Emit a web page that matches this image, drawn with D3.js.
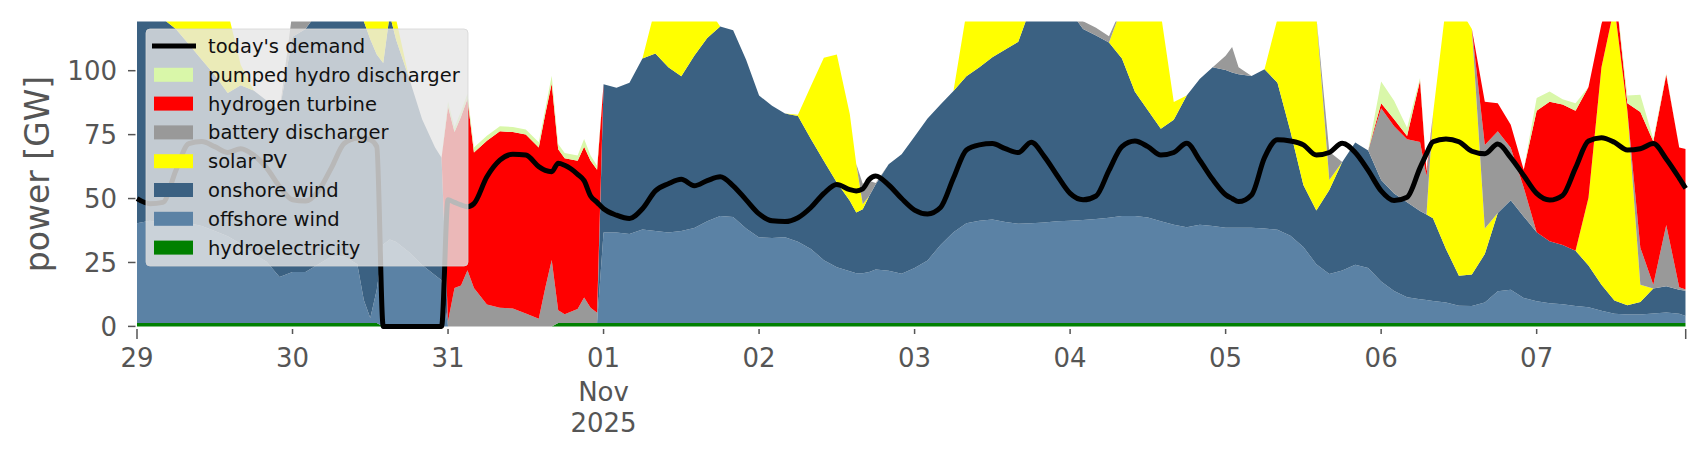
<!DOCTYPE html>
<html><head><meta charset="utf-8">
<script src="https://cdn.jsdelivr.net/npm/d3@7"></script>
<style>body{margin:0;background:#fff}svg{display:block}text{font-family:"DejaVu Sans",sans-serif}</style>
</head><body>
<svg id="chart" width="1706" height="460"></svg>
<script>
// hours since 2025-10-29 00:00 (UTC)
const hours = [0,2,4,6,8,10,12,14,16,18,20,22,
 24,26,28,30,32,34,35,36,37,38,39,40,42,44,46,47,
 48,49,50,51,52,54,56,58,60,62,63,64,65,66,68,69,70,71,
 72,74,76,78,80,82,84,86,88,90,92,94,
 96,98,100,102,104,106,108,110,111,112,113,114,116,118,
 120,122,124,126,128,130,132,134,136,138,140,142,
 144,146,148,150,152,154,156,158,160,162,164,166,
 168,169,170,172,174,176,178,180,182,184,186,188,190,
 192,194,196,198,199,200,202,204,206,208,210,212,214,
 216,218,220,222,224,226,228,230,232,234,236,238,239];

const hydroelectricity = [1.3,1.3,1.3,1.3,1.3,1.3,1.3,1.3,1.3,1.3,1.3,1.3,
 1.3,1.3,1.3,1.3,1.3,1.3,1.3,1.3,1.3,0,0,0,0,0,0,0,
 0,0,0,0,0,0,0,0,0,0,0,0,1.3,1.3,1.3,1.3,1.3,1.3,
 1.3,1.3,1.3,1.3,1.3,1.3,1.3,1.3,1.3,1.3,1.3,1.3,
 1.3,1.3,1.3,1.3,1.3,1.3,1.3,1.3,1.3,1.3,1.3,1.3,1.3,1.3,
 1.3,1.3,1.3,1.3,1.3,1.3,1.3,1.3,1.3,1.3,1.3,1.3,
 1.3,1.3,1.3,1.3,1.3,1.3,1.3,1.3,1.3,1.3,1.3,1.3,
 1.3,1.3,1.3,1.3,1.3,1.3,1.3,1.3,1.3,1.3,1.3,1.3,1.3,
 1.3,1.3,1.3,1.3,1.3,1.3,1.3,1.3,1.3,1.3,1.3,1.3,1.3,
 1.3,1.3,1.3,1.3,1.3,1.3,1.3,1.3,1.3,1.3,1.3,1.3,1.3];

const offshoreWind = [39,40,39,39,39,38,36,34,31,27,24,18,
 20,20,23,26,26,23,9,2,13,32,34,33,29,24,20,18,
 0,0,0,0,0,0,0,0,0,0,0,0,0,0,0,0,0,0,
 35.4,35.4,34.8,36.6,36,35.4,36,37.2,39.8,41.9,41.5,37,
 33.5,33.3,33.6,31.8,29,24.6,21.8,20.3,19.5,19.5,20,21,20.5,19.3,
 21.5,24.5,30.5,35.5,39,40,40.5,39.5,38.8,39,39.3,39.8,
 40,40.3,40.7,41.2,41.9,41.9,41.3,39.8,38.5,37.5,38.5,38,
 37.3,37.3,37.3,37.3,37,36.5,34.2,29.8,23,19.2,20.6,22.8,21.5,
 16.3,12.5,10.1,9.3,9,8.6,8,6.8,6.7,8,12.4,13,9.8,
 8.5,7.8,7.4,6.7,6.2,4.8,3.6,3.4,3.4,3.7,4.1,3.6,2.8];

const onshoreWind = [90,84,80,76,70,65,61,56,62,64,63,65,
 92,95,99,98,98,101,109,109,92,71,88,79,68,57,50,48,
 0,0,0,0,0,0,0,0,0,0,0,0,0,0,0,0,0,0,
 58,56.6,59.2,66.9,69.4,64.6,60.5,67.3,71.7,74.1,73,66,
 55.5,51.7,48.4,49.2,43,38.8,33.2,27.5,23.7,25,29.7,33.3,41.6,46.7,
 51.5,55.5,55,55.3,57.5,60,63.5,67.5,71.2,85,87.7,87.2,
 82,74.7,71.8,68.5,61.6,48.6,41.9,36.2,41,51.5,57,62,
 61.7,60.7,60,59.3,62.3,57.5,40.8,24.2,21,32.8,42.4,47.8,46,
 39.7,38.2,37.2,34.5,33.5,32.4,21,11.7,12.3,19,30.6,35,31.9,
 27,24.2,23.1,21.6,16.3,10.2,5.2,3.6,4.8,9.8,10.3,9.4,9.8];

const solarPV = [0,0,0,5,20,30,35,32,8,0,0,0,
 0,0,0,0,2,8,12,15,18,20,5,8,0,0,0,0,
 0,0,0,0,0,0,0,0,0,0,0,0,0,0,0,0,0,0,
 0,0,0,0,18,30,40,30,12,0,0,0,
 0,0,0,0.5,20.7,40.4,50,34,19,2,0,0,0,0,
 0,0,0,0,25,30,30,20,9,0,0,0,
 0,0,0,0,20,35,45,45,7,0,0,0,
 0,0,0,0,0,25,50,70,76,4,0,0,0,
 0,0,0,0,0,40.7,95,105,96,10,0,0,0,
 0,0,0,0,26.5,85,115,76,6.8,0,0,0,0];

const batteryDischarger = [0,0,0,0,0,0,0,0,0,0,0,0,
 10,10,0,0,0,0,0,0,0,0,0,0,0,0,0,0,
 2,15,16,22,15,8.6,7.3,7,5,3,15,26,5,3.5,5.5,10,6,4,
 0,0,0,0,0,0,0,0,0,0,0,0,
 0,0,0,0,0,0,0,0,0,8,6,0.5,0,0,
 0,0,0,0,0,0,0,0,0,0,0,0,
 0,3,3,2.5,0,0,0,0,0,0,0,0,
 5.5,10,2.7,0,0,0,0,0,0,11,0,0,0,
 28,26.3,24.6,27,15,0,0,0,0,32.6,32,20.6,11.3,
 0,0,0,0,0,0,0,0,14.5,1.5,24,1,0.5];

const hydrogenTurbine = [0,0,0,0,0,0,0,0,0,0,0,0,
 0,0,0,0,0,0,0,0,0,0,0,0,0,0,0,0,
 84,61,66,67,53,64,69,69,70,67,68,69,63,61,58,59,57.5,56,
 0,0,0,0,0,0,0,0,0,0,0,0,
 0,0,0,0,0,0,0,0,0,0,0,0,0,0,
 0,0,0,0,0,0,0,0,0,0,0,0,
 0,0,0,0,0,0,0,0,0,0,0,0,
 0,0,0,0,0,0,0,0,0,0,0,0,0,
 2,2.7,1.3,24,2,0,0,0,0,17,11,9,7,
 47.5,54.6,55,54.7,43.3,17,10,3,53,56,58.7,54.7,55];

const pumpedHydroDischarger = [0,0,0,0,0,0,0,0,0,0,0,0,
 0,0,0,0,0,0,0,0,0,0,0,0,0,0,0,0,
 2,2,2,2,2,2,2,2,2,2,2,3,2,2,2,3,2,1.5,
 0,0,0,0,0,0,0,0,0,0,0,0,
 0,0,0,0,0,0,0,0,0,0,0,0,0,0,
 0,0,0,0,0,0,0,0,0,0,0,0,
 0,0,0,0,0,0,0,0,0,0,0,0,
 0,0,0,0,0,0,0,0,0,0,0,0,0,
 8.5,7.2,3.2,1,0.5,0,0,0,0,0,0,0,0,
 5,4,2,3,0,0,0,3,6.8,1,0.5,0,0];

const todaysDemand = [50,48,48.5,61,71.5,72.3,70.3,68,69.5,67,62,54.7,
 49.5,49,53,62,71.6,73.6,73.5,73,70.3,0,0,0,0,0,0,0,
 49.5,48.5,47.5,46.8,48,58.5,65,67.3,67,62.5,61,60.5,63.8,63,59.5,57,51,48.5,
 46,43.5,42.2,46,53,55.8,57.5,55,57,58.5,55,49.5,
 44,41.3,41,42.5,46.5,52,55.5,53.5,53,53.8,57.5,58.8,55.3,50,
 45.5,44,46.5,58,69,71,71.5,69.5,68,72,66.5,59,
 52,49.5,51,61,70.3,72.5,70.3,67,68,71.6,65,57.5,
 51.5,50,48.8,51.4,66,73,72.5,71,67,68,71.6,68,61,
 53,49.2,50.5,62,67.5,72.2,73.3,72.2,68.5,67.5,71.3,66,59,
 52,49.4,51.2,62,72.5,73.8,72,69,69.5,71.5,65.5,58,54];

const yTickValues = [0,25,50,75,100];
const xTickLabels = ["29","30","31","01","02","03","04","05","06","07"];
const monthYearLabel = ["Nov","2025"];

const seriesDefs = [
  {key:"hydroelectricity", label:"hydroelectricity", values:hydroelectricity, color:"#008000"},
  {key:"offshore", label:"offshore wind", values:offshoreWind, color:"#5b82a5"},
  {key:"onshore", label:"onshore wind", values:onshoreWind, color:"#3b6182"},
  {key:"solar", label:"solar PV", values:solarPV, color:"#ffff00"},
  {key:"battery", label:"battery discharger", values:batteryDischarger, color:"#999999"},
  {key:"hydrogen", label:"hydrogen turbine", values:hydrogenTurbine, color:"#ff0000"},
  {key:"pumped", label:"pumped hydro discharger", values:pumpedHydroDischarger, color:"#d9f7a9"}
];

const svg = d3.select("#chart");
const plot = {left:137, right:1685.7, top:21.6, bottom:326.4};
const t0 = Date.UTC(2025, 9, 29);
const dates = hours.map(h => new Date(t0 + h*3600000));
const x = d3.scaleUtc().domain([new Date(t0), new Date(t0 + 239*3600000)]).range([plot.left, plot.right]);
const y = d3.scaleLinear().domain([0, 119.2]).range([plot.bottom, plot.top]);

const rows = hours.map((h,i) => {
  const r = {date: dates[i]};
  seriesDefs.forEach(s => r[s.key] = s.values[i]);
  return r;
});
const stacked = d3.stack().keys(seriesDefs.map(s => s.key))(rows);

svg.append("defs").append("clipPath").attr("id","clip")
  .append("rect").attr("x",plot.left).attr("y",plot.top)
  .attr("width",plot.right-plot.left).attr("height",plot.bottom-plot.top+4);

const area = d3.area()
  .x(d => x(d.data.date)).y0(d => y(d[0])).y1(d => y(d[1]));

const g = svg.append("g").attr("clip-path","url(#clip)");
g.selectAll("path.area").data(stacked).join("path")
  .attr("class","area")
  .attr("d", area)
  .attr("fill", (d,i) => seriesDefs[i].color);

const line = d3.line().x((d,i) => x(dates[i])).y(d => y(d)).curve(d3.curveMonotoneX);
svg.append("path").datum(todaysDemand)
  .attr("d", line).attr("fill","none").attr("stroke","#000")
  .attr("stroke-width",5).attr("stroke-linejoin","round");

// y axis
const tickColor = "#555";
yTickValues.forEach(v => {
  svg.append("line").attr("x1",128).attr("x2",135.5).attr("y1",y(v)).attr("y2",y(v))
    .attr("stroke",tickColor).attr("stroke-width",1.5);
  svg.append("text").attr("x",117).attr("y",y(v)).attr("dy","0.36em")
    .attr("text-anchor","end").attr("font-size",26).attr("fill",tickColor).text(v);
});
svg.append("text").attr("transform",`translate(37,${(plot.top+plot.bottom)/2}) rotate(-90)`)
  .attr("text-anchor","middle").attr("dy","0.36em").attr("font-size",33).attr("fill",tickColor)
  .text("power [GW]");

// x axis
const days = d3.utcDay.range(new Date(t0), new Date(t0 + 240*3600000));
days.forEach((d,i) => {
  const xp = x(d);
  svg.append("line").attr("x1",xp).attr("x2",xp).attr("y1",329).attr("y2",i===0?339:334)
    .attr("stroke",tickColor).attr("stroke-width",1.5);
  svg.append("text").attr("x",xp).attr("y",367).attr("text-anchor","middle")
    .attr("font-size",26).attr("fill",tickColor).text(xTickLabels[i]);
  if (xTickLabels[i] === "01") {
    svg.append("text").attr("x",xp).attr("y",401).attr("text-anchor","middle")
      .attr("font-size",26).attr("fill",tickColor).text(monthYearLabel[0]);
    svg.append("text").attr("x",xp).attr("y",432).attr("text-anchor","middle")
      .attr("font-size",26).attr("fill",tickColor).text(monthYearLabel[1]);
  }
});
svg.append("line").attr("x1",plot.right).attr("x2",plot.right).attr("y1",329).attr("y2",339)
  .attr("stroke",tickColor).attr("stroke-width",1.5);

// legend
const lg = svg.append("g");
lg.append("rect").attr("x",146).attr("y",29).attr("width",322).attr("height",237).attr("rx",4)
  .attr("fill","#e6e6e6").attr("fill-opacity",0.8).attr("stroke","#d6d6d6").attr("stroke-opacity",0.8);
const legendItems = [{label:"today's demand", type:"line", color:"#000"}]
  .concat(seriesDefs.slice().reverse().map(s => ({label:s.label, type:"patch", color:s.color})));
legendItems.forEach((it,i) => {
  const cy = 46 + i*28.8;
  if (it.type === "line") {
    lg.append("line").attr("x1",152).attr("x2",196).attr("y1",cy).attr("y2",cy)
      .attr("stroke",it.color).attr("stroke-width",5);
  } else {
    lg.append("rect").attr("x",154).attr("y",cy-7).attr("width",39).attr("height",14).attr("fill",it.color);
  }
  lg.append("text").attr("x",208).attr("y",cy).attr("dy","0.36em").attr("font-size",19.5)
    .attr("fill","#111").text(it.label);
});
</script>
</body></html>
